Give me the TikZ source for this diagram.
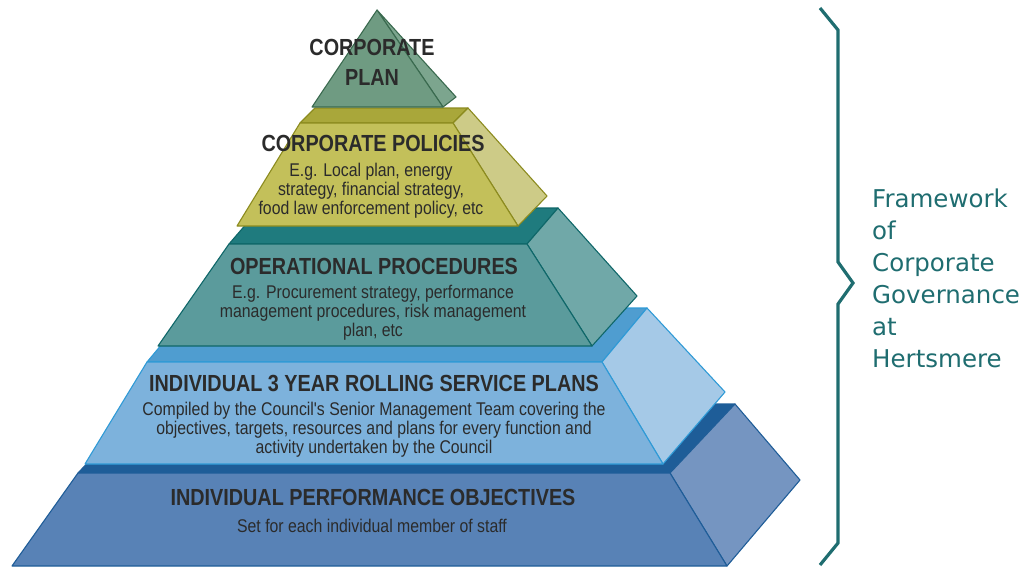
\documentclass[tikz,border=0pt]{standalone}
\usepackage{fontspec}
\usepackage{tikz}
\newfontfamily\headfont[FakeStretch=0.85]{Liberation Sans}
\newfontfamily\bodyfont[FakeStretch=0.86]{Liberation Sans}
\newfontfamily\sidefont{DejaVu Sans}
\definecolor{inkgray}{HTML}{2B2B2B}
\definecolor{teal}{HTML}{1F6D70}
\definecolor{planfront}{HTML}{6F9B82}
\definecolor{planside}{HTML}{7CA58E}
\definecolor{planline}{HTML}{3A6A4F}
\definecolor{polfront}{HTML}{C3C05A}
\definecolor{poltop}{HTML}{A9A73A}
\definecolor{polside}{HTML}{CDCB87}
\definecolor{polline}{HTML}{8C8B1F}
\definecolor{opfront}{HTML}{5B9B9C}
\definecolor{optop}{HTML}{1F7B7E}
\definecolor{opside}{HTML}{70A8A8}
\definecolor{opline}{HTML}{0F6769}
\definecolor{svcfront}{HTML}{7DB2DC}
\definecolor{svctop}{HTML}{4F9DD0}
\definecolor{svcside}{HTML}{A5C9E7}
\definecolor{svcline}{HTML}{2F9AD6}
\definecolor{perffront}{HTML}{5882B6}
\definecolor{perftop}{HTML}{1E5D98}
\definecolor{perfside}{HTML}{7595C1}
\definecolor{perfline}{HTML}{1F5D98}

\begin{document}
\begin{tikzpicture}[x=1pt, y=-1pt,
  face/.style={line width=1.1pt, line join=round},
  head/.style={font=\headfont\bfseries\fontsize{23.3}{30}\selectfont, text=inkgray, align=center, inner sep=0pt},
  body/.style={font=\bodyfont\fontsize{18.4}{18.8}\selectfont, text=inkgray, align=center, inner sep=0pt},
  sidetext/.style={font=\sidefont\fontsize{24.5}{32}\selectfont, text=teal, align=left, inner sep=0pt}]
  \useasboundingbox (0,0) rectangle (1024,568);
  \filldraw[face, fill=perftop, draw=perfline] (78,473) -- (143,404) -- (735,404) -- (670,473) -- cycle;
  \filldraw[face, fill=perfside, draw=perfline] (670,473) -- (735,404) -- (800,480) -- (727,566) -- cycle;
  \filldraw[face, fill=perffront, draw=perfline] (12,566) -- (727,566) -- (670,473) -- (78,473) -- cycle;
  \filldraw[face, fill=svctop, draw=svcline] (147,362) -- (192,308) -- (647,308) -- (602,362) -- cycle;
  \filldraw[face, fill=svcside, draw=svcline] (602,362) -- (647,308) -- (725,392) -- (663,464) -- cycle;
  \filldraw[face, fill=svcfront, draw=svcline] (85,464) -- (663,464) -- (602,362) -- (147,362) -- cycle;
  \filldraw[face, fill=optop, draw=opline] (229,244) -- (260,208) -- (558,208) -- (527,244) -- cycle;
  \filldraw[face, fill=opside, draw=opline] (527,244) -- (558,208) -- (637,296) -- (592,346) -- cycle;
  \filldraw[face, fill=opfront, draw=opline] (158,346) -- (592,346) -- (527,244) -- (229,244) -- cycle;
  \filldraw[face, fill=poltop, draw=polline] (300,123) -- (315,108) -- (468,108) -- (453,123) -- cycle;
  \filldraw[face, fill=polside, draw=polline] (453,123) -- (468,108) -- (547,196) -- (518,226) -- cycle;
  \filldraw[face, fill=polfront, draw=polline] (237,226) -- (518,226) -- (453,123) -- (300,123) -- cycle;
  \filldraw[face, fill=planside, draw=planline] (377,10) -- (456,97) -- (443,107) -- cycle;
  \filldraw[face, fill=planfront, draw=planline] (377,10) -- (443,107) -- (312,107) -- cycle;
  \draw[teal, line width=3.2pt, line join=miter] (820,8) -- (838,30) -- (838,262) -- (853,283) -- (838,304) -- (838,543) -- (820,565);
  \node[head] (planhead) at (372,62) {CORPORATE\\PLAN};
  \node[head] (polhead) at (373,143) {CORPORATE POLICIES};
  \node[body] (poltext) at (371,191) {E.g. Local plan, energy\\strategy, financial strategy,\\food law enforcement policy, etc};
  \node[head] (ophead) at (374,266) {OPERATIONAL PROCEDURES};
  \node[body] (optext) at (373,313) {E.g. Procurement strategy, performance\\management procedures, risk management\\plan, etc};
  \node[head] (svchead) at (374,383) {INDIVIDUAL 3 YEAR ROLLING SERVICE PLANS};
  \node[body] (svctext) at (374,430) {Compiled by the Council's Senior Management Team covering the\\objectives, targets, resources and plans for every function and\\activity undertaken by the Council};
  \node[head] (perfhead) at (373,497) {INDIVIDUAL PERFORMANCE OBJECTIVES};
  \node[body] (perftext) at (372,526) {Set for each individual member of staff};
  \node[sidetext, anchor=north west] (frame) at (872,189) {Framework\\of\\Corporate\\Governance\\at\\Hertsmere};
\end{tikzpicture}
\end{document}
